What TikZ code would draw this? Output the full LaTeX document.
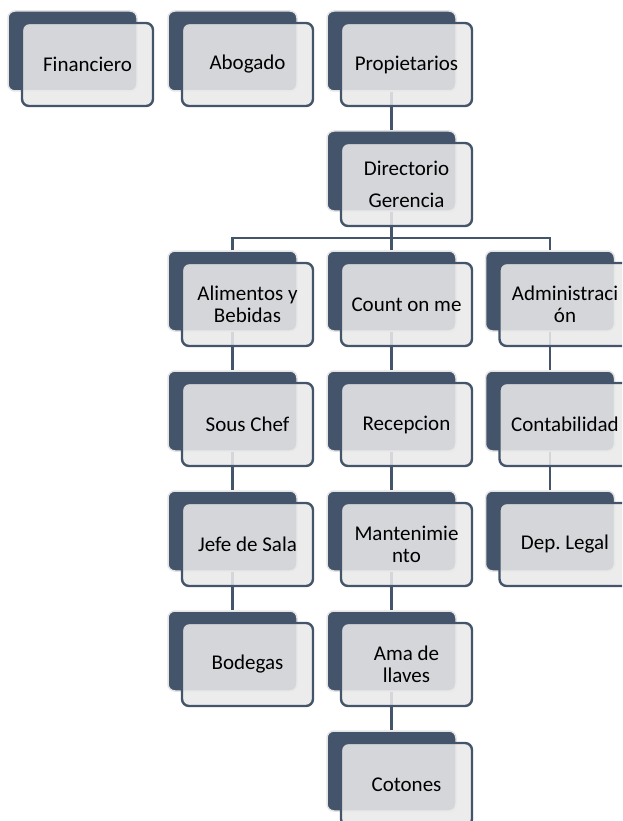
\documentclass[tikz,border=0pt]{standalone}
\usepackage{fontspec}
\setmainfont{Carlito}
\frenchspacing
\definecolor{slate}{HTML}{44546A}
\definecolor{pale}{HTML}{E9E9E9}
\definecolor{rim}{HTML}{E4E4E4}
\begin{document}
\begin{tikzpicture}[x=1pt,y=-1pt,
  back/.style={fill=slate,draw=rim,line width=1.5pt,rounded corners=7pt,
    minimum width=129pt,minimum height=80pt,inner sep=0pt},
  front/.style={fill=pale,fill opacity=0.88,text opacity=1,draw=slate,
    line width=2.4pt,rounded corners=7pt,minimum width=131pt,minimum height=83pt,
    inner sep=0pt,align=center,text=black,
    font=\fontsize{21}{22}\selectfont,xshift=15pt,yshift=-13.5pt},
  link/.style={draw=slate,line width=2.4pt}]
\useasboundingbox (0,0) rectangle (622,821);
\clip (0,0) rectangle (622,821);
% back plates
\foreach \n/\x/\y in {fin/72.5/51,abo/232.5/51,pro/391.5/51,dir/391.5/171,
  ali/232.5/291,cou/391.5/291,adm/550/291,
  sou/232.5/411,rec/391.5/411,con/550/411,
  jef/232.5/531,man/391.5/531,dep/550/531,
  bod/232.5/651,ama/391.5/651,cot/391.5/771}
  {\node[back] (d\n) at (\x,\y) {};}
% connectors
\coordinate (bus) at (391.5,238);
\draw[link] (dpro.south) -- (ddir.north);
\draw[link] (ddir.south) -- (dcou.north);
\draw[link] (dali.north) |- (bus) -| (dadm.north);
\draw[link] (dali.south) -- (dsou.north);
\draw[link] (dsou.south) -- (djef.north);
\draw[link] (djef.south) -- (dbod.north);
\draw[link] (dcou.south) -- (drec.north);
\draw[link] (drec.south) -- (dman.north);
\draw[link] (dman.south) -- (dama.north);
\draw[link] (dama.south) -- (dcot.north);
\draw[link] (dadm.south) -- (dcon.north);
\draw[link] (dcon.south) -- (ddep.north);
% front plates
\node[front] (fin) at (dfin.center) {Financiero};
\node[front] (abo) at (dabo.center) {Abogado};
\node[front] (pro) at (dpro.center) {Propietarios};
\node[front,font=\fontsize{21}{32}\selectfont] (dir) at (ddir.center) {Directorio\\Gerencia};
\node[front] (ali) at (dali.center) {Alimentos y\\Bebidas};
\node[front] (cou) at (dcou.center) {Count on me};
\node[front] (adm) at (dadm.center) {Administraci\\ón};
\node[front] (sou) at (dsou.center) {Sous Chef};
\node[front] (rec) at (drec.center) {Recepcion};
\node[front] (con) at (dcon.center) {Contabilidad};
\node[front] (jef) at (djef.center) {Jefe de Sala};
\node[front] (man) at (dman.center) {Mantenimie\\nto};
\node[front] (dep) at (ddep.center) {Dep. Legal};
\node[front] (bod) at (dbod.center) {Bodegas};
\node[front] (ama) at (dama.center) {Ama de\\llaves};
\node[front] (cot) at (dcot.center) {Cotones};
\end{tikzpicture}
\end{document}
